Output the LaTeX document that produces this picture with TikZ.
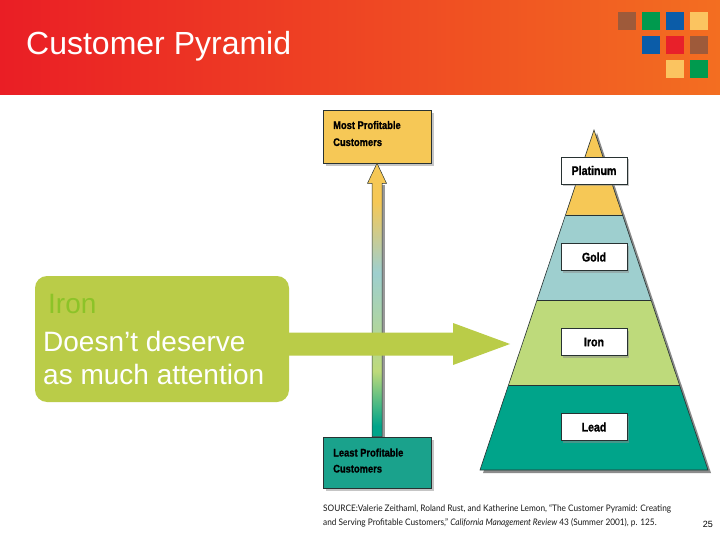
\documentclass[tikz,border=0pt]{standalone}
\usepackage{fontspec}
\setmainfont{Liberation Sans}
\newfontfamily\condfont[FakeStretch=0.85,BoldFeatures={FakeBold=1.2}]{Liberation Sans}
\newfontfamily\srcfont[FakeStretch=0.92]{Lato}
\usetikzlibrary{calc,shadows}
\definecolor{hdrL}{RGB}{234,30,37}
\definecolor{hdrR}{RGB}{243,110,33}
\definecolor{sqbrown}{RGB}{158,90,58}
\definecolor{sqgreen}{RGB}{0,154,78}
\definecolor{sqblue}{RGB}{11,92,168}
\definecolor{sqyellow}{RGB}{251,196,96}
\definecolor{sqred}{RGB}{232,32,42}
\definecolor{platc}{RGB}{246,200,86}
\definecolor{goldc}{RGB}{158,207,207}
\definecolor{ironc}{RGB}{190,218,123}
\definecolor{leadc}{RGB}{0,164,138}
\definecolor{leastc}{RGB}{26,162,140}
\definecolor{limec}{RGB}{186,204,72}
\definecolor{irontxt}{RGB}{140,195,40}
\definecolor{edgec}{RGB}{40,50,50}
\pgfdeclareverticalshading{vgrad}{100bp}{color(0bp)=(leadc); color(27bp)=(leadc); color(37bp)=(ironc); color(55bp)=(goldc); color(68bp)=(platc); color(100bp)=(platc)}
\tikzset{
  lbl/.style={draw=edgec, line width=0.6pt, fill=white, minimum width=66pt, minimum height=27pt, inner sep=0pt,
    font=\condfont\bfseries\fontsize{12.5}{14}\selectfont,
    drop shadow={shadow xshift=2pt, shadow yshift=-2pt, fill=black!45}},
  pbox/.style={draw=edgec, line width=0.6pt, minimum width=108pt, inner sep=0pt,
    drop shadow={shadow xshift=3pt, shadow yshift=-3pt, fill=black!45}},
  ptext/.style={anchor=base west, inner sep=0pt, font=\condfont\bfseries\fontsize{11}{13}\selectfont},
  edge/.style={draw=edgec, line width=0.6pt},
  callout/.style={fill=limec, rounded corners=12pt, minimum width=254pt, minimum height=126pt, inner sep=0pt},
  bigtxt/.style={anchor=base west, inner sep=0pt, font=\fontsize{28}{33}\selectfont},
  srctxt/.style={anchor=base west, inner sep=0pt, font=\srcfont\fontsize{9}{14}\selectfont, text=black!90},
}
\begin{document}
\begin{tikzpicture}[x=1pt,y=-1pt]
\useasboundingbox (0,0) rectangle (720,540);
\fill[white] (0,0) rectangle (720,540);
% header
\shade[left color=hdrL, right color=hdrR] (0,0) rectangle (720,95);
\node[anchor=base west, inner sep=0pt, text=white, font=\fontsize{32}{38}\selectfont] (title) at (26,55) {Customer Pyramid};
\fill[sqbrown]  (618,12) rectangle ++(18,18);
\fill[sqgreen]  (642,12) rectangle ++(18,18);
\fill[sqblue]   (666,12) rectangle ++(18,18);
\fill[sqyellow] (690,12) rectangle ++(18,18);
\fill[sqblue]   (642,36) rectangle ++(18,18);
\fill[sqred]    (666,36) rectangle ++(18,18);
\fill[sqbrown]  (690,36) rectangle ++(18,18);
\fill[sqyellow] (666,60) rectangle ++(18,18);
\fill[sqgreen]  (690,60) rectangle ++(18,18);
% pyramid
\coordinate (apex) at (594,130);
\coordinate (bl) at (480,470);
\coordinate (br) at (708,470);
\fill[black!45] (597,133) -- (711,473) -- (483,473) -- cycle;
\fill[platc] (apex) -- ($(apex)!0.25!(br)$) -- ($(apex)!0.25!(bl)$) -- cycle;
\fill[goldc] ($(apex)!0.25!(bl)$) -- ($(apex)!0.25!(br)$) -- ($(apex)!0.5!(br)$) -- ($(apex)!0.5!(bl)$) -- cycle;
\fill[ironc] ($(apex)!0.5!(bl)$) -- ($(apex)!0.5!(br)$) -- ($(apex)!0.75!(br)$) -- ($(apex)!0.75!(bl)$) -- cycle;
\fill[leadc] ($(apex)!0.75!(bl)$) -- ($(apex)!0.75!(br)$) -- (br) -- (bl) -- cycle;
\draw[edge] ($(apex)!0.25!(bl)$) -- ($(apex)!0.25!(br)$);
\draw[edge] ($(apex)!0.5!(bl)$) -- ($(apex)!0.5!(br)$);
\draw[edge] ($(apex)!0.75!(bl)$) -- ($(apex)!0.75!(br)$);
\draw[edge] (apex) -- (br) -- (bl) -- cycle;
\node[lbl] (plat) at (594,170.5) {Platinum};
\node[lbl] (gold) at (594,257) {Gold};
\node[lbl] (iron) at (594,342) {Iron};
\node[lbl] (lead) at (594,427) {Lead};
% profitability boxes
\node[pbox, fill=platc, minimum height=53pt] (most) at (377,136.5) {};
\node[ptext] (most1) at (333,129) {Most Profitable};
\node[ptext] (most2) at (333,146) {Customers};
\node[pbox, fill=leastc, minimum height=51pt] (least) at (377,462.5) {};
\node[ptext] (least1) at (333,456.5) {Least Profitable};
\node[ptext] (least2) at (333,472.5) {Customers};
% vertical arrow
\fill[black!40] ($(least.north)+(5,0)$) rectangle ($(most.south)+(8,22)$);
\shadedraw[shading=vgrad, draw=edgec, line width=0.5pt]
  ($(least.north)+(-5,0)$) -- ($(most.south)+(-5,20)$) -- ($(most.south)+(-9.5,20)$) -- (most.south)
  -- ($(most.south)+(9.5,20)$) -- ($(most.south)+(5,20)$) -- ($(least.north)+(5,0)$) -- cycle;
% callout
\node[callout] (note) at (162,339) {};
\node[bigtxt, text=irontxt] (notea) at (48,313) {Iron};
\node[bigtxt, text=white] (noteb) at (43,351) {Doesn’t deserve};
\node[bigtxt, text=white] (notec) at (43,384) {as much attention};
\coordinate (tip) at (510,344);
\fill[limec] ($(note.east|-tip)+(-3,-11.5)$) -- ($(tip)+(-57,-11.5)$) -- ($(tip)+(-57,-21)$) -- (tip)
  -- ($(tip)+(-57,21)$) -- ($(tip)+(-57,11.5)$) -- ($(note.east|-tip)+(-3,11.5)$) -- cycle;
% source
\node[srctxt] (src1) at (323,511.5) {SOURCE:Valerie Zeithaml, Roland Rust, and Katherine Lemon, “The Customer Pyramid: Creating};
\node[srctxt] (src2) at (323,525.5) {and Serving Profitable Customers,” \textit{California Management Review} 43 (Summer 2001), p. 125.};
\node[anchor=base east, inner sep=0pt, font=\fontsize{9}{11}\selectfont] (pnum) at (713,527) {25};
\end{tikzpicture}
\end{document}
